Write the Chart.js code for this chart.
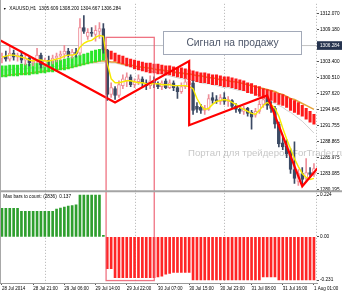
<!DOCTYPE html>
<html><head><meta charset="utf-8">
<script src="https://cdn.jsdelivr.net/npm/chart.js@4"></script>
<style>html,body{margin:0;padding:0;background:#fff;overflow:hidden}canvas{display:block}</style>
</head><body>
<canvas id="c" width="342" height="293"></canvas>
<script>
// ---------- DATA ----------
const headerText = 'XAUUSD,H1  1305.609 1308.200 1304.667 1306.284';
const subLabelText = 'Max bars to count: (2836)  0.137';
const signalText = 'Сигнал на продажу';
const watermarkText = 'Портал для трейдеров ForTrader.ru';
const bidPrice = 1306.284;

const timeTickBars = [0, 8, 16, 24, 32, 40, 48, 56, 64, 72, 80];
const timeTickLabels = ['28 Jul 2014','28 Jul 21:00','29 Jul 06:00','29 Jul 14:00','29 Jul 22:00','30 Jul 07:00','30 Jul 15:00','30 Jul 23:00','31 Jul 08:00','31 Jul 16:00','1 Aug 01:00'];
const dayGridBars = [11, 34, 57, 80.5];
const priceTicks = [1312.070, 1309.180, 1306.284, 1303.400, 1300.510, 1297.620, 1294.645, 1291.755, 1288.865, 1285.975, 1283.085, 1280.195];
const subTicks = [0.224, 0, -0.231];
const subTickLabels = ['0.224', '0.00', '-0.231'];

const open = [
1304.01,1304.37,1303.83,1304.91,1304.19,1304.55,1303.65,1304.01,1303.12,1303.47,
1304.55,1302.76,1303.65,1303.47,1304.01,1304.37,1304.73,1305.27,1304.55,1305.09,
1304.91,1309.56,1307.95,1308.67,1308.31,1308.85,1309.38,1305.44,1297.39,1298.46,
1297.21,1299.00,1299.89,1300.61,1299.18,1299.71,1300.25,1299.53,1299.00,1299.89,
1299.36,1298.82,1299.89,1298.64,1299.53,1298.64,1297.92,1298.82,1299.18,1299.53,
1295.24,1295.06,1294.52,1294.70,1296.85,1296.49,1296.13,1296.85,1296.13,1296.31,
1295.24,1294.70,1294.34,1294.88,1294.16,1293.63,1294.34,1295.60,1296.49,1295.42,
1294.88,1292.01,1288.61,1288.07,1287.00,1283.78,1281.63,1283.06,1282.16,1283.24,
1282.88];
const high = [
1304.91,1305.27,1306.16,1305.44,1304.91,1305.27,1304.55,1304.37,1304.01,1305.80,
1304.91,1304.01,1304.37,1304.55,1304.91,1305.27,1306.34,1305.80,1305.62,1305.80,
1311.18,1311.71,1309.38,1309.56,1309.92,1310.46,1310.28,1305.62,1299.53,1298.82,
1299.89,1300.97,1301.33,1300.97,1300.25,1300.97,1300.61,1300.07,1300.79,1300.61,
1299.71,1299.89,1300.25,1300.07,1299.89,1299.00,1299.53,1300.25,1300.61,1299.89,
1295.95,1295.60,1295.42,1297.39,1297.74,1297.21,1297.39,1297.74,1297.03,1296.49,
1295.77,1295.24,1295.24,1295.06,1294.52,1294.88,1296.31,1297.03,1297.21,1296.13,
1295.24,1292.37,1289.69,1289.15,1287.54,1288.79,1283.78,1284.13,1285.75,1284.13,
1284.85];
const low = [
1303.12,1303.47,1303.47,1303.65,1303.47,1303.12,1302.76,1302.58,1302.58,1303.12,
1302.22,1302.40,1302.76,1302.94,1303.30,1303.65,1304.01,1304.19,1304.01,1304.19,
1304.55,1308.49,1307.41,1307.95,1307.06,1307.59,1304.91,1296.31,1296.85,1296.49,
1296.85,1298.46,1298.82,1298.82,1298.64,1299.18,1298.82,1298.28,1298.46,1298.64,
1298.46,1298.28,1298.46,1298.46,1298.10,1296.67,1297.57,1298.46,1298.82,1293.80,
1294.16,1293.98,1293.80,1294.52,1295.77,1295.77,1295.60,1295.60,1295.24,1294.88,
1294.16,1293.98,1293.80,1293.45,1291.12,1293.27,1293.98,1295.06,1294.70,1294.16,
1291.30,1287.89,1287.36,1285.92,1283.06,1281.27,1280.91,1281.09,1281.63,1282.34,
1282.52];
const close = [
1304.37,1303.83,1304.91,1304.19,1304.55,1303.65,1304.01,1303.12,1303.47,1304.55,
1302.76,1303.65,1303.47,1304.01,1304.37,1304.73,1305.27,1304.55,1305.09,1304.73,
1309.56,1308.85,1308.67,1308.49,1309.03,1309.38,1305.44,1297.39,1298.64,1297.21,
1299.18,1300.25,1300.61,1299.18,1299.71,1300.25,1299.53,1299.00,1299.89,1299.36,
1298.82,1299.53,1298.64,1299.53,1298.64,1297.92,1298.82,1299.71,1299.89,1294.52,
1294.70,1294.52,1294.88,1296.67,1296.31,1296.13,1296.85,1296.13,1296.49,1295.24,
1294.70,1294.34,1294.88,1293.98,1293.27,1294.34,1295.60,1296.49,1295.42,1294.88,
1292.01,1288.43,1287.89,1286.64,1283.78,1282.16,1283.06,1281.98,1283.24,1282.88,
1283.95];
const fastMA = [
1304.19,1304.37,1304.55,1304.55,1304.37,1304.19,1304.01,1303.65,1303.47,1303.65,
1303.65,1303.47,1303.47,1303.65,1303.83,1304.01,1304.37,1304.55,1304.55,1304.73,
1305.98,1306.70,1307.06,1307.23,1307.77,1308.13,1307.95,1303.12,1300.25,1299.53,
1299.53,1299.71,1299.89,1299.89,1299.71,1299.53,1299.53,1299.36,1299.36,1299.36,
1299.36,1299.18,1299.18,1299.18,1299.00,1299.00,1299.00,1299.00,1298.82,1298.46,
1296.67,1295.42,1294.70,1294.88,1295.60,1296.13,1296.31,1296.49,1296.31,1295.95,
1295.60,1295.06,1294.70,1294.34,1293.98,1293.80,1294.52,1295.42,1295.95,1295.60,
1294.88,1293.45,1291.30,1289.33,1287.54,1285.75,1284.31,1283.06,1282.34,1281.98,
1282.16];
const slowMA = [
1300.79,1300.79,1300.97,1300.97,1301.15,1301.15,1301.15,1301.33,1301.33,1301.50,
1301.50,1301.68,1301.68,1301.86,1301.86,1302.04,1302.22,1302.22,1302.40,1302.58,
1302.76,1302.94,1303.12,1303.30,1303.30,1303.47,1303.47,1303.47,1303.30,1303.30,
1303.12,1302.94,1302.76,1302.76,1302.58,1302.40,1302.40,1302.22,1302.22,1302.04,
1301.86,1301.86,1301.68,1301.68,1301.50,1301.33,1301.33,1301.15,1301.15,1300.97,
1300.79,1300.79,1300.61,1300.43,1300.43,1300.25,1300.07,1300.07,1299.89,1299.71,
1299.71,1299.53,1299.36,1299.18,1299.00,1298.82,1298.64,1298.46,1298.28,1298.10,
1297.92,1297.57,1297.39,1297.03,1296.67,1296.49,1296.13,1295.77,1295.42,1295.06,
1294.70];
const longMA = [
1301.86,1301.86,1301.86,1302.04,1302.04,1302.04,1302.04,1302.22,1302.22,1302.22,
1302.22,1302.40,1302.40,1302.40,1302.58,1302.58,1302.58,1302.76,1302.76,1302.76,
1302.94,1302.94,1303.12,1303.12,1303.12,1303.12,1303.12,1303.30,1303.12,1303.12,
1302.94,1302.76,1302.58,1302.40,1302.22,1302.04,1301.86,1301.86,1301.68,1301.50,
1301.33,1301.15,1300.97,1300.79,1300.61,1300.43,1300.25,1300.25,1300.07,1299.89,
1299.71,1299.53,1299.36,1299.36,1299.18,1299.00,1298.82,1298.64,1298.64,1298.46,
1298.28,1298.10,1298.10,1297.92,1297.74,1297.57,1297.21,1296.85,1296.49,1296.13,
1295.77,1295.42,1295.06,1294.52,1294.16,1293.63,1293.09,1292.55,1291.83,1291.12,
1290.40];
const ribbonUpper = [
1302.58,1302.58,1302.76,1302.76,1302.76,1302.94,1302.94,1302.94,1303.12,1303.12,
1303.12,1303.30,1303.30,1303.47,1303.65,1303.65,1303.83,1304.01,1304.19,1304.37,
1304.55,1304.73,1304.91,1305.27,1305.44,1305.62,1305.80,1305.44,1305.27,1304.91,
1304.55,1304.37,1304.01,1303.83,1303.65,1303.47,1303.30,1303.12,1303.12,1302.94,
1302.94,1302.76,1302.58,1302.58,1302.40,1302.22,1302.22,1302.04,1301.86,1301.68,
1301.50,1301.33,1301.33,1301.15,1300.97,1300.97,1300.79,1300.61,1300.61,1300.43,
1300.25,1300.07,1299.89,1299.53,1299.36,1299.00,1298.82,1298.46,1298.28,1298.10,
1297.74,1297.57,1297.39,1297.03,1296.67,1296.31,1295.95,1295.42,1294.88,1294.34,
1293.80];
const ribbonLower = [
1300.61,1300.61,1300.79,1300.79,1300.79,1300.97,1300.97,1300.97,1301.15,1301.15,
1301.33,1301.33,1301.50,1301.50,1301.68,1301.86,1301.86,1302.04,1302.22,1302.40,
1302.58,1302.76,1302.94,1303.12,1303.30,1303.47,1303.65,1304.01,1303.83,1303.47,
1303.12,1302.94,1302.58,1302.40,1302.04,1301.86,1301.68,1301.50,1301.33,1301.33,
1301.15,1301.15,1300.97,1300.97,1300.79,1300.61,1300.43,1300.25,1300.07,1299.89,
1299.71,1299.53,1299.53,1299.36,1299.18,1299.18,1299.00,1298.82,1298.82,1298.64,
1298.46,1298.28,1298.10,1297.74,1297.57,1297.21,1297.03,1296.67,1296.49,1296.31,
1295.95,1295.60,1295.42,1295.06,1294.52,1294.16,1293.80,1293.45,1292.91,1292.37,
1292.01];
const histogram = [
0.153,0.153,0.153,0.153,0.153,0.138,0.138,0.138,0.138,0.138,
0.138,0.138,0.138,0.138,0.150,0.155,0.160,0.165,0.168,0.172,
0.224,0.224,0.224,0.224,0.224,0.224,0.008,-0.170,-0.170,-0.218,
-0.218,-0.218,-0.218,-0.218,-0.218,-0.218,-0.218,-0.218,-0.218,-0.218,
-0.215,-0.210,-0.200,-0.195,-0.190,-0.190,-0.190,-0.190,-0.190,-0.231,
-0.231,-0.231,-0.231,-0.231,-0.231,-0.231,-0.231,-0.231,-0.231,-0.231,
-0.231,-0.231,-0.231,-0.231,-0.231,-0.231,-0.231,-0.215,-0.215,-0.215,
-0.215,-0.231,-0.231,-0.231,-0.231,-0.231,-0.231,-0.231,-0.231,-0.231,
-0.231];
const zigBars = [-0.5, 29, 48, 48, 68, 77, 82];
const zigPrices = [1307.23, 1295.95, 1303.47, 1291.83, 1297.21, 1280.73, 1284.92];
// annotation anchors (bar index / price / sub value)
const rectBars = [26.7, 39.05];
const rectTopPrice = 1307.77;
const rectBottomSub = -0.234;
const signalBars = [41.4, 76.55];
const signalPrices = [1308.85, 1304.73];
const watermarkBar = 47.7;
const watermarkPrice = 1286.64;

// ---------- BUILD ----------
const FONT = '"Liberation Sans", Arial, sans-serif';
Chart.defaults.font.family = FONT;
const idx = open.map((_, i) => i);
const bull = idx.map(i => close[i] >= open[i]);
const BULL = '#ee8e98', BEAR = '#3c4a64';

const mt4 = {
  id: 'mt4',
  beforeDraw(chart) {
    const c = chart.ctx; c.save(); c.fillStyle = '#fff'; c.fillRect(0, 0, chart.width, chart.height); c.restore();
  },
  beforeDatasetsDraw(chart) {
    const c = chart.ctx, {x, y, y2} = chart.scales;
    c.save();
    c.font = '9.6px ' + FONT; c.fillStyle = '#c8c8c8'; c.textBaseline = 'middle'; c.textAlign = 'left';
    c.fillText(watermarkText, x.getPixelForValue(watermarkBar), y.getPixelForValue(watermarkPrice));
    c.strokeStyle = '#b0b0b0'; c.lineWidth = 1; c.setLineDash([1, 2]);
    dayGridBars.forEach(b => {
      const px = Math.round(x.getPixelForValue(b)) + 0.5;
      c.beginPath(); c.moveTo(px, y.top); c.lineTo(px, y2.bottom); c.stroke();
    });
    c.restore();
  },
  afterDatasetsDraw(chart) {
    const c = chart.ctx, {x, y, y2} = chart.scales;
    c.save();
    // rectangle spanning both panes
    const L = x.getPixelForValue(rectBars[0]), R = x.getPixelForValue(rectBars[1]);
    const T = y.getPixelForValue(rectTopPrice), B = y2.getPixelForValue(rectBottomSub);
    c.strokeStyle = 'rgba(236,90,108,0.85)'; c.lineWidth = 1.3;
    c.strokeRect(L, T, R - L, B - T);
    // signal text box
    const bx0 = Math.round(x.getPixelForValue(signalBars[0])) + 0.5, bx1 = Math.round(x.getPixelForValue(signalBars[1])) + 0.5;
    const by0 = Math.round(y.getPixelForValue(signalPrices[0])) + 0.5, by1 = Math.round(y.getPixelForValue(signalPrices[1])) + 0.5;
    c.fillStyle = '#fff'; c.fillRect(bx0, by0, bx1 - bx0, by1 - by0);
    c.strokeStyle = '#a2a9b8'; c.lineWidth = 1; c.strokeRect(bx0, by0, bx1 - bx0, by1 - by0);
    c.fillStyle = '#4d5669'; c.font = '10.3px ' + FONT; c.textAlign = 'center'; c.textBaseline = 'middle';
    c.fillText(signalText, (bx0 + bx1) / 2, (by0 + by1) / 2 + 0.5);
    c.restore();
  },
  afterDraw(chart) {
    const c = chart.ctx, {x, y, y2} = chart.scales;
    c.save();
    // pane separator
    c.fillStyle = '#a4a4a4'; c.fillRect(0, y2.top - 1, chart.width, 2);
    // left frame
    c.fillStyle = '#a8a8a8'; c.fillRect(0, 0, 1, y2.bottom);
    // header
    c.fillStyle = '#000'; c.textBaseline = 'middle'; c.textAlign = 'left';
    c.font = '3.6px ' + FONT; c.fillText('▼', x.left + 3, y.top + 5);
    c.font = '4.7px ' + FONT; c.fillText(headerText, x.left + 9.3, y.top + 5);
    c.fillText(subLabelText, x.left + 3.3, y2.top + 5.5);
    c.restore();
  }
};

const yTickFont = {family: FONT, size: 4.7};
new Chart(document.getElementById('c'), {
  type: 'bar',
  data: {
    datasets: [
      {type: 'line', data: [{x: -0.5, y: bidPrice}, {x: 81, y: bidPrice}], borderColor: '#c4c4c4', borderWidth: 1, pointRadius: 0, yAxisID: 'y', order: 20},
      {type: 'line', data: idx.map(i => ({x: i, y: longMA[i]})), borderColor: '#d2d2d2', borderWidth: 1, pointRadius: 0, yAxisID: 'y', order: 19},
      {type: 'line', data: idx.map(i => ({x: i, y: slowMA[i]})), borderColor: '#e6a33a', borderWidth: 1.6, pointRadius: 0, yAxisID: 'y', order: 18},
      {type: 'bar', data: idx.map(i => ({x: i, y: [ribbonLower[i], ribbonUpper[i]]})), backgroundColor: idx.map(i => histogram[i] >= 0 ? '#2ae62a' : '#ff1a1a'), barThickness: 2.4, grouped: false, borderWidth: 0, yAxisID: 'y', order: 17},
      {type: 'bar', data: idx.map(i => ({x: i, y: [low[i], high[i]]})), backgroundColor: idx.map(i => bull[i] ? BULL : BEAR), barThickness: 1, grouped: false, borderWidth: 0, yAxisID: 'y', order: 16},
      {type: 'bar', data: idx.map(i => ({x: i, y: [Math.min(open[i], close[i]), Math.max(open[i], close[i])]})), backgroundColor: idx.map(i => bull[i] ? '#fff' : BEAR), borderColor: idx.map(i => bull[i] ? BULL : BEAR), borderWidth: 1, borderSkipped: false, minBarLength: 1, barThickness: 3, grouped: false, yAxisID: 'y', order: 15},
      {type: 'line', data: idx.map(i => ({x: i, y: fastMA[i]})), borderColor: '#f7ea00', borderWidth: 1.4, pointRadius: 0, yAxisID: 'y', order: 14},
      {type: 'line', data: zigBars.map((b, i) => ({x: b, y: zigPrices[i]})), borderColor: '#ff0000', borderWidth: 2.2, pointRadius: 0, yAxisID: 'y', order: 13},
      {type: 'bar', data: idx.map(i => ({x: i, y: histogram[i]})), backgroundColor: idx.map(i => histogram[i] >= 0 ? '#2f9f2f' : '#ff2626'), barThickness: 2, grouped: false, borderWidth: 0, yAxisID: 'y2', order: 12}
    ]
  },
  options: {
    responsive: false, animation: false, events: [],
    layout: {padding: 0},
    plugins: {legend: {display: false}, tooltip: {enabled: false}},
    scales: {
      x: {
        type: 'linear', position: 'bottom', min: -0.5, max: 80.78, offset: false,
        afterFit: s => { s.height = 10; },
        afterBuildTicks: s => { s.ticks = timeTickBars.map(v => ({value: v})); },
        grid: {display: true, drawOnChartArea: false, drawTicks: true, tickLength: 2, tickColor: '#555', offset: false},
        border: {display: true, color: '#9a9a9a'},
        ticks: {autoSkip: false, maxRotation: 0, minRotation: 0, align: 'start', padding: 1, color: '#000', font: {family: FONT, size: 4.5},
          callback: (v, i) => timeTickLabels[i]}
      },
      y: {
        type: 'linear', position: 'right', stack: 'pane', stackWeight: 190, min: 1279.83, max: 1313.86,
        afterFit: s => { s.width = 25; },
        afterBuildTicks: s => { s.ticks = priceTicks.map(v => ({value: v})); },
        grid: {drawOnChartArea: false, drawTicks: true, tickLength: 2, tickColor: '#555'},
        border: {display: false},
        ticks: {autoSkip: false, padding: 1, font: yTickFont,
          color: ctx => (ctx.tick && ctx.tick.value === bidPrice) ? '#fff' : '#000',
          showLabelBackdrop: ctx => !!(ctx.tick && ctx.tick.value === bidPrice),
          backdropColor: '#26344f', backdropPadding: {left: 3, right: 8, top: 1.5, bottom: 1.5},
          callback: v => v.toFixed(3)}
      },
      y2: {
        type: 'linear', position: 'right', stack: 'pane', stackWeight: 93, min: -0.247, max: 0.245,
        afterFit: s => { s.width = 25; },
        afterBuildTicks: s => { s.ticks = subTicks.map(v => ({value: v})); },
        grid: {drawOnChartArea: false, drawTicks: true, tickLength: 2, tickColor: '#555'},
        border: {display: false},
        ticks: {autoSkip: false, padding: 1, font: yTickFont, color: '#000', callback: (v, i) => subTickLabels[i]}
      }
    }
  },
  plugins: [mt4]
});
</script>
</body></html>
